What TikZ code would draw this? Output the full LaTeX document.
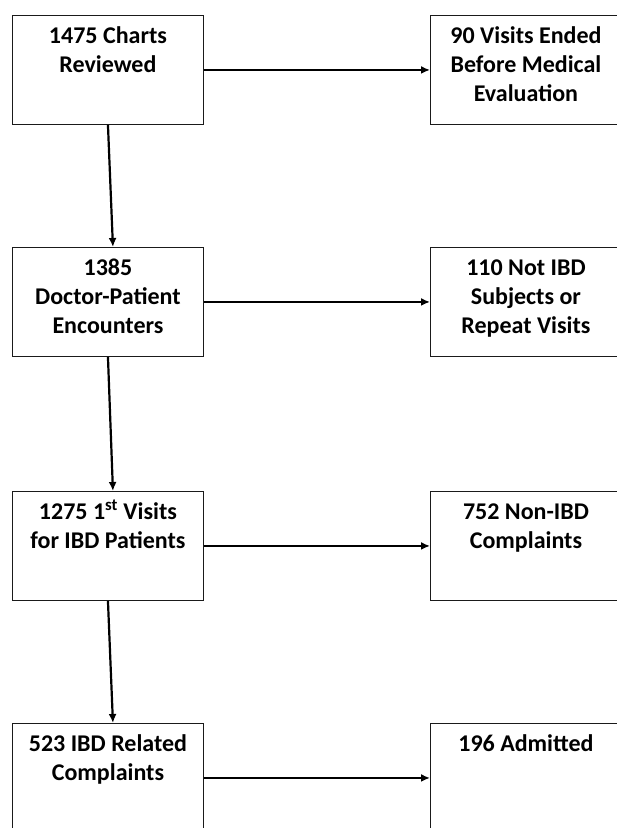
\documentclass[tikz,border=0pt]{standalone}
\usepackage{fontspec}
\setmainfont{Carlito}
\usetikzlibrary{arrows.meta}
\definecolor{boxline}{HTML}{1a1a1a}
\tikzset{
    flowbox/.style={
        draw=boxline,
        line width=0.9pt,
        anchor=north west,
        align=flush center,
        text width=185pt,
        inner sep=3pt,
        text height=25pt,
        text depth=78pt,
        font=\fontsize{24}{29}\selectfont\bfseries
    },
    flowarrow/.style={
        line width=2.2pt,
        -{Latex[length=9pt,width=8pt]}
    }
}
\begin{document}
\begin{tikzpicture}[x=1pt,y=1pt]
        \clip (0,0) rectangle (617,-828);

        % left column
        \node[flowbox] (charts) at (12,-15) {1475 Charts\\Reviewed};
        \node[flowbox] (encounters) at (12,-247) {1385\\Doctor-Patient\\Encounters};
        \node[flowbox] (firstvisits) at (12,-491) {1275 1\textsuperscript{st} Visits\\for IBD Patients};
        \node[flowbox] (related) at (12,-723) {523 IBD Related\\Complaints};

        % right column
        \node[flowbox] (ended) at (430,-15) {90 Visits Ended\\Before Medical\\Evaluation};
        \node[flowbox] (notibd) at (430,-247) {110 Not IBD\\Subjects or\\Repeat Visits};
        \node[flowbox] (nonibd) at (430,-491) {752 Non-IBD\\Complaints};
        \node[flowbox] (admitted) at (430,-723) {196 Admitted};

        \draw[flowarrow] (charts.south) -- ([xshift=5pt]encounters.north);
        \draw[flowarrow] (encounters.south) -- ([xshift=5pt]firstvisits.north);
        \draw[flowarrow] (firstvisits.south) -- ([xshift=5pt]related.north);

        \draw[flowarrow] (charts.east) -- (ended.west);
        \draw[flowarrow] (encounters.east) -- (notibd.west);
        \draw[flowarrow] (firstvisits.east) -- (nonibd.west);
        \draw[flowarrow] (related.east) -- (admitted.west);
\end{tikzpicture}
\end{document}
